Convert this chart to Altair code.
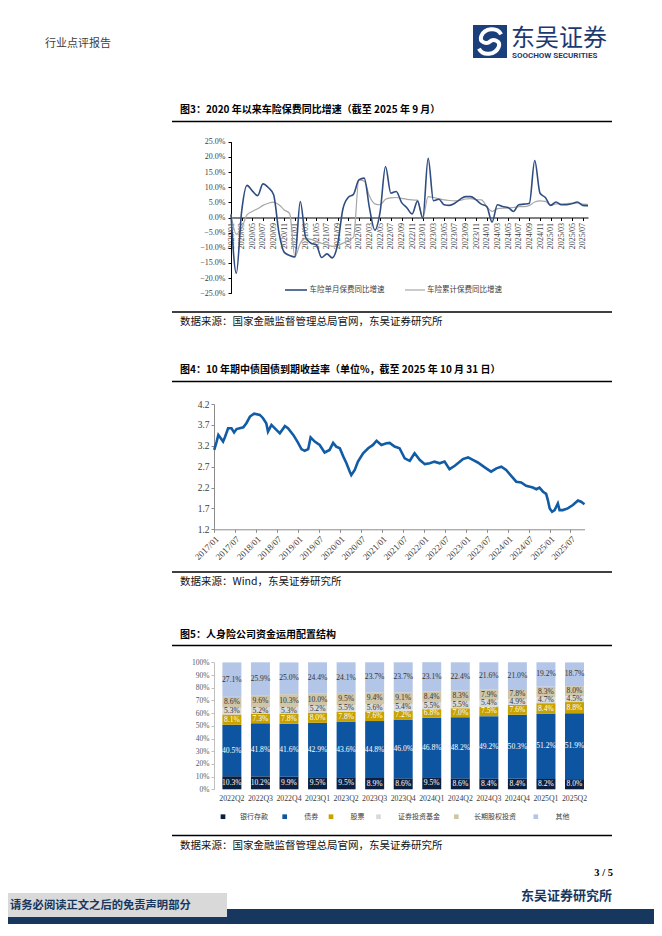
import altair as alt
import pandas as pd

M = 8            # body margin of the html page
W, H = 646, 916  # whole drawing, kept inside the window so the page is not rescaled

CJK = "Noto Sans CJK SC"
SERIF = "Liberation Serif"

# ---------------- Figure 3: motor insurance premium YoY (%) ----------------
months3 = [f"{y}/{m:02d}" for y in range(2020, 2026) for m in range(1, 13)][:68]
series3 = ["车险单月保费同比增速", "车险累计保费同比增速"]
single_month = [1.0, -18.4, 2.0, 10.6, 8.8, 7.2, 11.1, 9.9, 7.5, -5.0, -11.5, -12.5,
                -13.0, 5.3, -6.5, -8.5, -9.0, -13.2, -12.0, -13.3, -9.0, 2.8, 6.6, 7.7,
                12.4, 13.0, 3.0, -4.2, 2.0, 16.8, 8.0, 8.6, 5.0, 3.2, 1.2, 5.4,
                -0.2, 19.5, 5.5, 6.0, 4.2, 4.0, 4.7, 6.0, 6.9, 6.9, 5.8, 4.4,
                3.6, -1.5, 4.2, 3.6, 3.3, 2.0, 4.2, 4.4, 4.7, 18.8, 8.0, 6.6,
                4.0, 5.1, 4.2, 4.2, 4.6, 5.1, 4.0, 3.9]
cumulative = [1.0, -5.5, -3.5, 0.9, 2.0, 2.9, 4.0, 4.7, 5.1, 4.2, 2.5, 1.4,
              -13.0, -8.5, -7.0, -7.2, -7.8, -8.5, -9.0, -9.5, -9.3, -8.5, -7.5, -6.5,
              12.4, 12.0, 7.0, 4.5, 4.2, 6.0, 6.5, 6.6, 6.3, 6.0, 5.8, 5.7,
              -0.2, 6.9, 6.6, 6.2, 5.8, 5.6, 5.5, 5.6, 6.1, 6.2, 5.9, 5.8,
              3.6, 2.0, 2.9, 3.1, 3.1, 3.3, 3.6, 3.6, 4.0, 5.1, 5.5, 5.3,
              4.0, 4.5, 4.5, 4.6, 4.7, 4.7, 4.4, 4.3]

# ---------------- Figure 4: 10Y CGB yield (%) ----------------
dates4 = ["2017-01-03", "2017-01-24", "2017-02-08", "2017-03-01", "2017-03-21", "2017-04-05",
          "2017-05-04", "2017-06-02", "2017-06-25", "2017-07-16", "2017-08-13", "2017-09-13",
          "2017-10-10", "2017-11-10", "2017-12-16", "2018-02-04", "2018-03-04", "2018-04-01",
          "2018-04-16", "2018-05-16", "2018-06-28", "2018-07-28", "2018-09-10", "2018-10-07",
          "2018-11-22", "2018-12-28", "2019-02-01", "2019-03-01", "2019-04-01", "2019-04-22",
          "2019-05-28", "2019-07-10", "2019-08-22", "2019-10-04", "2019-11-04", "2019-12-01",
          "2020-01-01", "2020-02-01", "2020-02-28", "2020-03-28", "2020-04-10", "2020-05-10",
          "2020-06-07", "2020-07-22", "2020-09-04", "2020-10-16", "2020-11-16", "2020-12-28",
          "2021-02-10", "2021-03-10", "2021-04-22", "2021-06-04", "2021-07-19", "2021-09-01",
          "2021-10-13", "2021-11-28", "2022-01-10", "2022-02-22", "2022-04-04", "2022-05-19",
          "2022-07-01", "2022-08-13", "2022-09-28", "2022-11-10", "2022-12-07", "2023-01-22",
          "2023-03-04", "2023-04-16", "2023-06-28", "2023-08-10", "2023-09-25", "2023-11-07",
          "2023-12-19", "2024-02-01", "2024-03-16", "2024-04-28", "2024-06-10", "2024-08-07",
          "2024-09-07", "2024-10-04", "2024-11-04", "2024-12-01", "2024-12-16", "2025-01-01",
          "2025-01-22", "2025-02-13", "2025-03-13", "2025-03-28", "2025-04-25", "2025-06-07",
          "2025-07-22", "2025-09-04", "2025-10-01", "2025-10-31"]
yield4 = [3.10, 3.30, 3.46, 3.38, 3.30, 3.40,
          3.62, 3.62, 3.52, 3.60, 3.62, 3.64,
          3.74, 3.90, 3.97, 3.94, 3.86, 3.74,
          3.54, 3.70, 3.58, 3.50, 3.67, 3.62,
          3.46, 3.30, 3.12, 3.08, 3.12, 3.40,
          3.30, 3.22, 3.04, 3.10, 3.27, 3.18,
          3.14, 2.94, 2.78, 2.58, 2.50, 2.62,
          2.82, 3.02, 3.14, 3.22, 3.32, 3.22,
          3.26, 3.27, 3.18, 3.14, 2.90, 2.84,
          3.02, 2.86, 2.76, 2.78, 2.82, 2.78,
          2.82, 2.64, 2.72, 2.82, 2.88, 2.92,
          2.86, 2.80, 2.66, 2.58, 2.66, 2.70,
          2.62, 2.48, 2.34, 2.32, 2.24, 2.20,
          2.16, 2.20, 2.10, 2.05, 1.90, 1.70,
          1.62, 1.66, 1.82, 1.66, 1.66, 1.70,
          1.78, 1.89, 1.86, 1.80]

# ---------------- Figure 5: life insurers' asset allocation (%) ----------------
quarters5 = ["2022Q2", "2022Q3", "2022Q4", "2023Q1", "2023Q2", "2023Q3", "2023Q4",
             "2024Q1", "2024Q2", "2024Q3", "2024Q4", "2025Q1", "2025Q2"]
categories5 = ["银行存款", "债券", "股票", "证券投资基金", "长期股权投资", "其他"]
bank_deposit = [10.3, 10.2, 9.9, 9.5, 9.5, 8.9, 8.6, 9.5, 8.6, 8.4, 8.4, 8.2, 8.0]
bonds = [40.5, 41.8, 41.6, 42.9, 43.6, 44.8, 46.0, 46.8, 48.2, 49.2, 50.3, 51.2, 51.9]
stocks = [8.1, 7.3, 7.8, 8.0, 7.8, 7.6, 7.2, 6.8, 7.0, 7.5, 7.6, 8.4, 8.8]
funds = [5.3, 5.2, 5.3, 5.2, 5.5, 5.6, 5.4, 5.5, 5.5, 5.4, 4.9, 4.7, 4.5]
lt_equity = [8.6, 9.6, 10.3, 10.0, 9.5, 9.4, 9.1, 8.4, 8.3, 7.9, 7.8, 8.3, 8.0]
others = [27.1, 25.9, 25.0, 24.4, 24.1, 23.7, 23.7, 23.1, 22.4, 21.6, 21.0, 19.2, 18.7]

colors5 = ["#0d1f3f", "#0d55a0", "#c8a200", "#d9d9d9", "#cfc5a8", "#b4c6e7"]

# ---------------- tables ----------------
df3 = pd.DataFrame({"month": months3, "single": single_month, "cum": cumulative})
df4 = pd.DataFrame({"date": dates4, "yield": yield4})
rows = []
for ci, (cat, vals) in enumerate(zip(categories5, [bank_deposit, bonds, stocks, funds, lt_equity, others])):
    for q, v in zip(quarters5, vals):
        rows.append({"quarter": q, "category": cat, "value": v, "order": ci})
df5 = pd.DataFrame(rows)
one = pd.DataFrame({"k": [0]})


# ---------------- helpers for page decoration ----------------
def text(t, x, y, size, color="#000000", weight="normal", font=CJK, align="left", baseline="middle"):
    return alt.Chart(one).mark_text(text=t, fontSize=size, color=color, fontWeight=weight,
                                    font=font, align=align, baseline=baseline).encode(
        x=alt.value(x - M), y=alt.value(y - M))


def hrule(x1, x2, y, color="#000000", width=1.3):
    return alt.Chart(one).mark_rule(color=color, strokeWidth=width).encode(
        x=alt.value(x1 - M), x2=alt.value(x2 - M), y=alt.value(y - M))


def box(x1, x2, y1, y2, color):
    return alt.Chart(one).mark_rect(color=color).encode(
        x=alt.value(x1 - M), x2=alt.value(x2 - M), y=alt.value(y1 - M), y2=alt.value(y2 - M))


NAVY = "#17375e"
deco = [
    text("行业点评报告", 45, 44, 11, color="#404040"),
    box(473, 507, 25, 58, "#1b3f7a"),
    alt.Chart(one).mark_point(
        shape="M 0.7,-0.45 C 0.45,-0.95 -0.35,-0.85 -0.55,-0.35 C -0.7,0.05 -0.2,0.2 0,0 "
              "C 0.2,-0.2 0.7,-0.05 0.55,0.35 C 0.35,0.85 -0.45,0.95 -0.7,0.45",
        size=1000, filled=False, stroke="white", strokeWidth=4, opacity=1).encode(
        x=alt.value(490 - M), y=alt.value(41.5 - M)),
    text("东吴证券", 511, 38.5, 24, color="#1d3a70"),
    text("SOOCHOW SECURITIES", 512, 56, 8, color="#1d3a70", weight="bold", font="Roboto"),
    # figure titles, rules and sources
    text("图3：2020 年以来车险保费同比增速（截至 2025 年 9 月）", 180, 110, 10, weight="bold"),
    hrule(172, 612, 121.5),
    hrule(172, 612, 312),
    text("数据来源：国家金融监督管理总局官网，东吴证券研究所", 180, 322, 10.5, color="#111111"),
    text("图4：10 年期中债国债到期收益率（单位%，截至 2025 年 10 月 31 日）", 180, 370, 10, weight="bold"),
    hrule(172, 612, 381.5),
    hrule(172, 612, 572),
    text("数据来源：Wind，东吴证券研究所", 180, 582, 10.5, color="#111111"),
    text("图5：人身险公司资金运用配置结构", 180, 634.5, 10, weight="bold"),
    hrule(172, 612, 645.5),
    hrule(172, 612, 835.5),
    text("数据来源：国家金融监督管理总局官网，东吴证券研究所", 180, 846, 10.5, color="#111111"),
    # footer
    text("3 / 5", 613, 873, 10.5, weight="bold", font=SERIF, align="right"),
    text("东吴证券研究所", 612, 896, 13, color=NAVY, weight="bold", align="right"),
    box(0, 662, 909, 936, NAVY),
    box(0, 227, 893, 917, "#d9d9d9"),
    text("请务必阅读正文之后的免责声明部分", 10, 905.5, 11.3, color=NAVY, weight="bold"),
]

# ---------------- Figure 3 chart ----------------
Y3_TOP, Y3_BOT = 141.7 - M, 293.3 - M
Y3_ZERO = (Y3_TOP + Y3_BOT) / 2
X3_L, X3_R = 231 - M, 588 - M
axis_x3 = alt.Axis(orient="bottom", offset=Y3_ZERO - H, values=months3[::2], labelAngle=-90,
                   labelAlign="right", labelBaseline="middle", labelFont=SERIF, labelFontSize=8,
                   labelColor="#404040", labelPadding=2, labelOverlap=False, labelFlush=False,
                   domainColor="#000000", tickColor="#000000", tickSize=3, title=None, grid=False)
axis_y3 = alt.Axis(orient="left", offset=-X3_L, values=list(range(-25, 30, 5)),
                   labelExpr="format(datum.value, '.1f') + '%'", labelFont=SERIF, labelFontSize=8,
                   labelColor="#404040", labelPadding=3, domainColor="#000000", tickColor="#000000",
                   tickSize=3, title=None, grid=False, labelFlush=False)
x3 = alt.X("month:O", sort=months3,
           scale=alt.Scale(type="point", domain=months3, range=[X3_L, X3_R], padding=0), axis=axis_x3)
sc_y3 = alt.Scale(domain=[-25, 25], range=[Y3_BOT, Y3_TOP], nice=False, zero=False)
base3 = alt.Chart(df3)
cum_line = base3.mark_line(color="#a6a6a6", strokeWidth=1.2, interpolate="monotone").encode(
    x=x3, y=alt.Y("cum:Q", scale=sc_y3, axis=axis_y3))
single_line = base3.mark_line(color="#2f4d82", strokeWidth=1.6, interpolate="monotone").encode(
    x=x3, y=alt.Y("single:Q", scale=sc_y3, axis=axis_y3))
chart3 = alt.layer(cum_line, single_line)

legend3 = [
    hrule(285, 307, 290, color="#2f4d82", width=1.6),
    text(series3[0], 309.5, 290, 7.5, color="#404040"),
    hrule(405, 425, 290, color="#a6a6a6", width=1.2),
    text(series3[1], 427, 290, 7.5, color="#404040"),
]

# ---------------- Figure 4 chart ----------------
X4_L, X4_R = 214 - M, 584.5 - M
Y4_TOP, Y4_BOT = 404 - M, 529.3 - M
ticks4 = [alt.DateTime(year=y, month=m, date=1) for y in range(2017, 2026) for m in (1, 7)]
axis_x4 = alt.Axis(orient="bottom", offset=Y4_BOT - H, values=ticks4, format="%Y/%m", labelAngle=-45,
                   labelFont=SERIF, labelFontSize=9, labelColor="#404040", labelOverlap=False,
                   labelFlush=False, domainColor="#8c8c8c", tickColor="#8c8c8c", tickSize=3,
                   labelPadding=2, title=None, grid=False)
axis_y4 = alt.Axis(orient="left", offset=-X4_L, values=[1.2, 1.7, 2.2, 2.7, 3.2, 3.7, 4.2], format=".1f",
                   labelFont=SERIF, labelFontSize=9.5, labelColor="#404040", domainColor="#8c8c8c",
                   tickColor="#8c8c8c", tickSize=3, labelPadding=2, title=None, grid=False,
                   labelFlush=False)
chart4 = alt.Chart(df4).mark_line(color="#125ca6", strokeWidth=2.6).encode(
    x=alt.X("date:T", scale=alt.Scale(domain=[alt.DateTime(year=2017, month=1, date=1),
                                              alt.DateTime(year=2025, month=10, date=31)],
                                      range=[X4_L, X4_R]), axis=axis_x4),
    y=alt.Y("yield:Q", scale=alt.Scale(domain=[1.2, 4.2], range=[Y4_BOT, Y4_TOP], nice=False, zero=False),
            axis=axis_y4))

# ---------------- Figure 5 chart ----------------
X5_L, X5_R = 214 - M, 592.4 - M
Y5_TOP, Y5_BOT = 662.3 - M, 789.3 - M
sc_x5 = alt.Scale(type="band", domain=quarters5, range=[X5_L, X5_R], paddingInner=0.335, paddingOuter=0.294)
sc_y5 = alt.Scale(domain=[0, 100], range=[Y5_BOT, Y5_TOP], nice=False)
axis_x5 = alt.Axis(orient="bottom", offset=Y5_BOT - H, labelFont=SERIF, labelFontSize=7.8, labelColor="#404040",
                   labelAngle=0, domain=False, ticks=False, labelPadding=5, title=None, grid=False)
axis_y5 = alt.Axis(orient="left", offset=-X5_L, values=list(range(0, 110, 10)),
                   labelExpr="datum.value + '%'", labelFont=SERIF, labelFontSize=7.5,
                   labelColor="#595959", domainColor="#bfbfbf", tickColor="#bfbfbf", tickSize=3,
                   labelPadding=2, title=None, grid=False, labelFlush=False)
base5 = alt.Chart(df5).transform_stack(
    stack="value", groupby=["quarter"], as_=["y0", "y1"], sort=[alt.SortField("order", order="ascending")]
).transform_calculate(
    mid="(datum.y0 + datum.y1) / 2",
    label="format(datum.value, '.1f') + '%'",
    tcolor="datum.order <= 2 ? '#ffffff' : '#333333'",
)
bars5 = base5.mark_bar().encode(
    x=alt.X("quarter:N", sort=quarters5, scale=sc_x5, axis=axis_x5),
    y=alt.Y("y0:Q", scale=sc_y5, axis=axis_y5),
    y2="y1:Q",
    color=alt.Color("category:N", scale=alt.Scale(domain=categories5, range=colors5), legend=None),
)
labels5 = base5.mark_text(font=SERIF, fontSize=7.6, baseline="middle").encode(
    x=alt.X("quarter:N", sort=quarters5, scale=sc_x5, axis=axis_x5),
    y=alt.Y("mid:Q", scale=sc_y5, axis=axis_y5),
    text="label:N",
    color=alt.Color("tcolor:N", scale=None),
)
chart5 = alt.layer(bars5, labels5)

sq_x = [223, 284.7, 331, 378.5, 456.3, 535.8]
lab_x = [240, 304.3, 350.5, 398, 474, 555.5]
legend5 = []
for i, cat in enumerate(categories5):
    legend5.append(alt.Chart(one).mark_square(size=22, color=colors5[i], opacity=1).encode(
        x=alt.value(sq_x[i] - M), y=alt.value(816.7 - M)))
    legend5.append(text(cat, lab_x[i], 816.7, 7, color="#404040"))

page = alt.layer(*deco, chart3, *legend3, chart4, chart5, *legend5).resolve_scale(
    x="independent", y="independent").properties(
    width=W, height=H, autosize=alt.AutoSizeParams(type="none"), padding=0,
    background="white").configure_view(strokeWidth=0)

page.save("out.html", embed_options={"renderer": "svg", "actions": False})
